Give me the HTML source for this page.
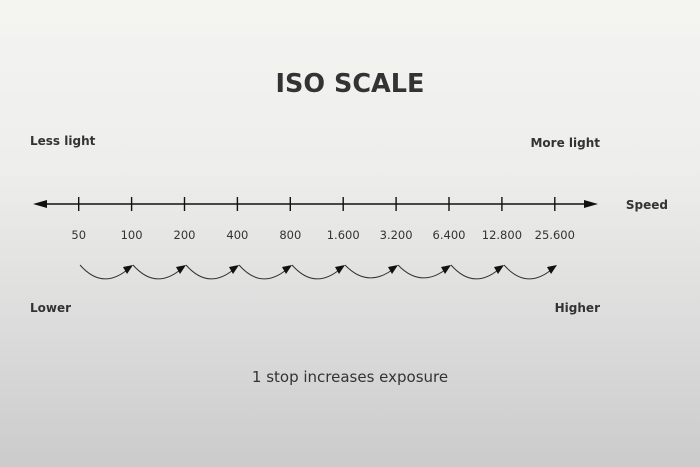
<!DOCTYPE html>
<html><head><meta charset="utf-8"><style>
html,body{margin:0;padding:0}
body{width:700px;height:467px;overflow:hidden;background:linear-gradient(#f4f4f1 0%,#eeeeec 35%,#dcdcdc 70%,#cbcbcb 100%)}
svg{display:block}
text{font-family:"DejaVu Sans","Liberation Sans",sans-serif;fill:#333}
</style></head><body>
<svg width="700" height="467" viewBox="0 0 700 467">
<text x="350" y="92" text-anchor="middle" font-size="25.5" font-weight="bold" fill="#333">ISO SCALE</text>
<text x="30" y="145" font-size="12" font-weight="bold">Less light</text>
<text x="600" y="147" font-size="12" font-weight="bold" text-anchor="end">More light</text>
<text x="668" y="209" font-size="12" font-weight="bold" text-anchor="end">Speed</text>
<text x="30" y="312" font-size="12" font-weight="bold">Lower</text>
<text x="600" y="312" font-size="12" font-weight="bold" text-anchor="end">Higher</text>
<text x="350" y="382" font-size="15" text-anchor="middle" fill="#444">1 stop increases exposure</text>
<line x1="40" y1="204" x2="588" y2="204" stroke="#111" stroke-width="1.6"/>
<polygon points="33,204 47,200 47,208" fill="#111"/>
<polygon points="598,204 584,200 584,208" fill="#111"/>
<g stroke="#111" stroke-width="1.4">
<line x1="78.7" y1="197" x2="78.7" y2="211"/><line x1="131.6" y1="197" x2="131.6" y2="211"/>
<line x1="184.5" y1="197" x2="184.5" y2="211"/><line x1="237.4" y1="197" x2="237.4" y2="211"/>
<line x1="290.3" y1="197" x2="290.3" y2="211"/><line x1="343.2" y1="197" x2="343.2" y2="211"/>
<line x1="396.1" y1="197" x2="396.1" y2="211"/><line x1="449" y1="197" x2="449" y2="211"/>
<line x1="501.9" y1="197" x2="501.9" y2="211"/><line x1="554.8" y1="197" x2="554.8" y2="211"/>
</g>
<g font-size="11.5" text-anchor="middle" fill="#444">
<text x="78.7" y="239">50</text><text x="131.6" y="239">100</text><text x="184.5" y="239">200</text>
<text x="237.4" y="239">400</text><text x="290.3" y="239">800</text><text x="343.2" y="239">1.600</text>
<text x="396.1" y="239">3.200</text><text x="449" y="239">6.400</text><text x="501.9" y="239">12.800</text>
<text x="554.8" y="239">25.600</text>
</g>
<g fill="none" stroke="#333" stroke-width="1">
<path d="M80,265 Q102,290 127,270"/><path d="M133,265 Q155,290 180,270"/>
<path d="M186,265 Q208,290 233,270"/><path d="M239,265 Q261,290 286,270"/>
<path d="M292,265 Q314,290 339,270"/><path d="M345,265 Q367,288 392,270"/>
<path d="M398,265 Q420,288 445,270"/><path d="M451,265 Q473,290 498,270"/>
<path d="M504,265 Q526,290 551,270"/>
</g>
<g fill="#111">
<polygon points="133,265 123,267 127,274"/><polygon points="186,265 176,267 180,274"/>
<polygon points="239,265 229,267 233,274"/><polygon points="292,265 282,267 286,274"/>
<polygon points="345,265 335,267 339,274"/><polygon points="398,265 388,267 392,274"/>
<polygon points="451,265 441,267 445,274"/><polygon points="504,265 494,267 498,274"/>
<polygon points="557,265 547,267 551,274"/>
</g>
</svg>
</body></html>
